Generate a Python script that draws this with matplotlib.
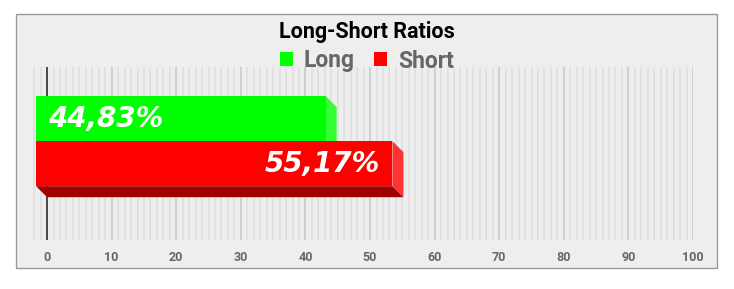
import numpy as np
import matplotlib
matplotlib.use("Agg")
import matplotlib.pyplot as plt
from matplotlib.patches import Polygon, Rectangle, Patch
from matplotlib.transforms import IdentityTransform

# data
categories = ['Long', 'Short']
ratios = [44.83, 55.17]
positions = [1, 0]
front_colors = ['#00ff00', '#ff0000']
side_colors = ['#33ff33', '#ff3333']
bottom_colors = ['#00a000', '#a00000']
xticks = list(range(0, 101, 10))

W, H = 734, 289
DEPTH = 11  # pixel depth of the 3d bars

fig = plt.figure(figsize=(W / 100, H / 100), dpi=100)
fig.patch.set_facecolor('white')

# grey panel with border
panel = Rectangle((16 / W, (H - 268) / H), (717 - 16) / W, (268 - 14) / H,
                  transform=fig.transFigure, facecolor='#eeeeee',
                  edgecolor='#999999', linewidth=1, zorder=-10)
fig.add_artist(panel)

ax = fig.add_axes([29 / W, (H - 240) / H, (693 - 29) / W, 173 / H])
ax.set_facecolor('none')
ax.set_xlim(-2.8, 100)
ax.set_ylim(-1.45, 2.39)
for s in ax.spines.values():
    s.set_visible(False)

ax.set_xticks(xticks)
ax.set_xticks(np.arange(-2, 100, 1), minor=True)
ax.set_yticks([])
ax.grid(which='minor', axis='x', color='#e0e0e0', linewidth=1.3)
ax.grid(which='major', axis='x', color='#cccccc', linewidth=1.3)
ax.set_axisbelow(True)
ax.tick_params(axis='x', which='both', length=0, pad=8, labelsize=9,
               labelcolor='#666666')
for lab in ax.get_xticklabels():
    lab.set_fontfamily('Roboto')
    lab.set_fontweight('bold')
ax.axvline(0, color='#333333', linewidth=1.2, zorder=1.5)


def bar3d(value, y, h, color, side, bottom):
    tr = ax.transData
    (x0, y0), (x1, y1) = tr.transform([(0, y - h / 2), (value, y + h / 2)])
    fx0, fx1 = x0 - DEPTH, x1 - DEPTH
    fy0, fy1 = y0 + DEPTH, y1 + DEPTH
    idt = IdentityTransform()
    ax.add_patch(Polygon([(fx0, fy0), (fx1, fy0), (x1, y0), (x0, y0)],
                         closed=True, transform=idt, facecolor=bottom,
                         edgecolor='none', clip_on=False, zorder=3))
    ax.add_patch(Polygon([(fx1, fy0), (fx1, fy1), (x1, y1), (x1, y0)],
                         closed=True, transform=idt, facecolor=side,
                         edgecolor='none', clip_on=False, zorder=3))
    ax.add_patch(Rectangle((fx0, fy0), fx1 - fx0, fy1 - fy0, transform=idt,
                           facecolor=color, edgecolor='none', clip_on=False,
                           zorder=3))


for i in range(len(categories)):
    bar3d(ratios[i], positions[i], 1.0, front_colors[i], side_colors[i],
          bottom_colors[i])

# value labels
for i in range(len(categories)):
    txt = f"{ratios[i]:.2f}".replace('.', ',') + '%'
    if i == 0:
        ax.annotate(txt, (0, positions[i]), xytext=(-DEPTH + 12, DEPTH),
                    textcoords='offset pixels', ha='left', va='center',
                    color='white', fontsize=20, fontweight='bold',
                    fontstyle='italic', family='DejaVu Sans', zorder=5)
    else:
        ax.annotate(txt, (ratios[i], positions[i]), xytext=(-DEPTH - 13, DEPTH),
                    textcoords='offset pixels', ha='right', va='center',
                    color='white', fontsize=20, fontweight='bold',
                    fontstyle='italic', family='DejaVu Sans', zorder=5)

fig.text(0.5, 1 - 32 / H, 'Long-Short Ratios', ha='center', va='center',
         fontsize=15.5, fontweight='bold', family='Roboto', color='black')

handles = [Patch(facecolor=c, edgecolor='none') for c in front_colors]
fig.legend(handles, categories, ncol=2, loc='center',
           bbox_to_anchor=(0.5, 1 - 61 / H), frameon=False,
           prop={'family': 'Roboto', 'weight': 'bold', 'size': 16.5},
           labelcolor='#666666', handlelength=0.56, handleheight=0.56,
           handletextpad=0.48, columnspacing=0.85, borderpad=0, borderaxespad=0)

fig.savefig('out.png', dpi=100)
